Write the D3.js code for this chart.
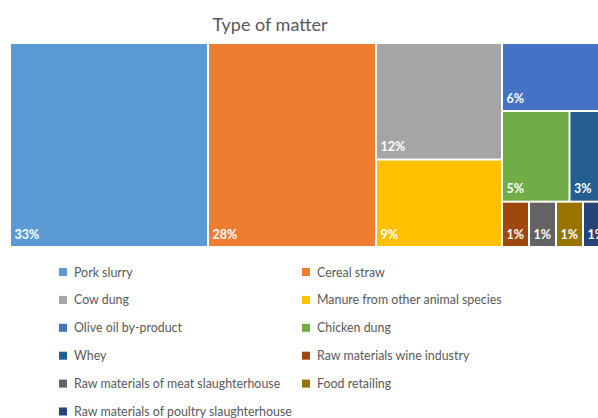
<!DOCTYPE html>
<html><head><meta charset="utf-8">
<script src="https://cdn.jsdelivr.net/npm/d3@7"></script>
<style>body{margin:0;background:#fff;overflow:hidden}svg{display:block}</style>
</head><body>
<svg id="chart" width="598" height="418"></svg>
<script>
const categories = ["Pork slurry","Cereal straw","Cow dung","Manure from other animal species","Olive oil by-product","Chicken dung","Whey","Raw materials wine industry","Raw materials of meat slaughterhouse","Food retailing","Raw materials of poultry slaughterhouse"];
const values = [33,28,12,9,6,5,3,1,1,1,1];
const colors = ["#5B9BD5","#ED7D31","#A5A5A5","#FFC000","#4472C4","#70AD47","#255E91","#9E480E","#636363","#997300","#264478"];
// grouping of category indices as laid out in the treemap (Excel squarified result)
const groups = [[0],[1],[[2],[3]],[[4],[[5],[6]],[[7],[8],[9],[10]]]];

const svg = d3.select("#chart");
const font = "Lato, 'Open Sans', sans-serif";

function build(g){
  if (typeof g === "number") return {idx:g, value:values[g]};
  if (g.length===1 && typeof g[0]==="number") return build(g[0]);
  return {children:g.map(build)};
}
const root = d3.hierarchy({children:groups.map(build)}).sum(d=>d.value||0);
d3.treemap().tile(d3.treemapSliceDice).size([598,202]).paddingInner(2).round(false)(root);

const g = svg.append("g").attr("transform","translate(11,44)");
const leaves = root.leaves();
g.selectAll("rect").data(leaves).join("rect")
  .attr("x",d=>d.x0).attr("y",d=>d.y0)
  .attr("width",d=>d.x1-d.x0).attr("height",d=>d.y1-d.y0)
  .attr("fill",d=>colors[d.data.idx]);
g.selectAll("text").data(leaves).join("text")
  .attr("x",d=>d.x0+3.5).attr("y",d=>d.y1-7.5)
  .attr("fill","#fff").attr("font-family",font).attr("font-weight","bold").attr("font-size",12.5)
  .text(d=>values[d.data.idx]+"%");

svg.append("text").attr("x",270).attr("y",31).attr("text-anchor","middle")
  .attr("font-family",font).attr("font-size",18).attr("fill","#595959").text("Type of matter");

const lg = svg.append("g");
const item = lg.selectAll("g").data(categories).join("g")
  .attr("transform",(d,i)=>`translate(${i%2?302:59},${272+Math.floor(i/2)*27.9})`);
item.append("rect").attr("x",0).attr("y",-4).attr("width",8).attr("height",8).attr("fill",(d,i)=>colors[i]);
item.append("text").attr("x",15).attr("y",4.5).attr("font-family",font).attr("font-size",12.4).attr("fill","#595959").text(d=>d);
</script>
</body></html>
